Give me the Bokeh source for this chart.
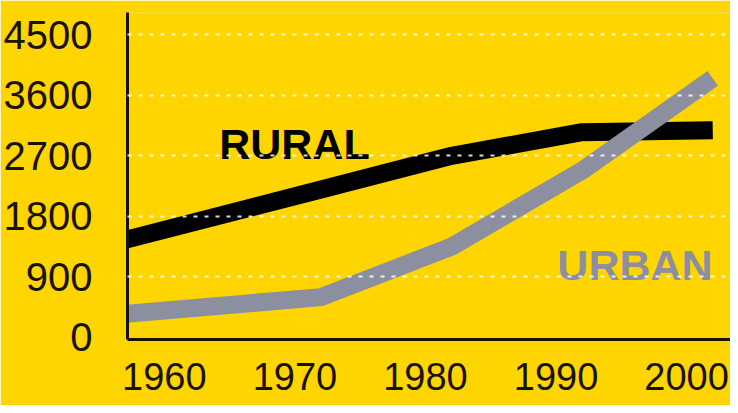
from bokeh.plotting import figure
from bokeh.models import FixedTicker, Range1d
from bokeh.core.properties import value
from bokeh.embed import file_html
from bokeh.resources import INLINE

# Data
years = [1957, 1972, 1982, 1992, 2002]
rural = [1450, 2200, 2700, 3050, 3080]
urban = [350, 600, 1350, 2480, 3850]
x_ticks = [1960, 1970, 1980, 1990, 2000]
y_ticks = [0, 900, 1800, 2700, 3600, 4500]

BG = "#FFD500"
GRAY = "#8C8FA0"
INK = "#1a1200"
FONT = "Liberation Sans"

p = figure(width=730, height=405, output_backend="svg", toolbar_location=None,
           x_range=Range1d(1957.18, 2003.36), y_range=Range1d(-30, 4829))
p.background_fill_color = BG
p.border_fill_color = BG
p.outline_line_color = None
p.min_border_left = 125
p.min_border_right = 0
p.min_border_top = 12
p.min_border_bottom = 66

# lines
p.line(years, rural, line_color="black", line_width=18, line_join="round", line_cap="butt")
p.line(years, urban, line_color=GRAY, line_width=18, line_join="round", line_cap="butt")

# labels
p.text(x=[1964.2], y=[2880], text=["RURAL"], text_color="black",
       text_font=value(FONT), text_font_style="bold", text_font_size="43px",
       text_baseline="alphabetic", text_align="left")
p.text(x=[1990.1], y=[1070], text=["URBAN"], text_color=GRAY,
       text_font=value(FONT), text_font_style="bold", text_font_size="43px",
       text_baseline="alphabetic", text_align="left")

# grid
p.xgrid.visible = False
p.ygrid.ticker = FixedTicker(ticks=y_ticks[1:])
p.ygrid.grid_line_color = "white"
p.ygrid.grid_line_alpha = 0.85
p.ygrid.grid_line_width = 2
p.ygrid.grid_line_dash = "4 7"
p.ygrid.level = "overlay"

# axes
for ax in (p.xaxis[0], p.yaxis[0]):
    ax.axis_line_color = INK
    ax.axis_line_width = 3
    ax.major_tick_line_color = None
    ax.minor_tick_line_color = None
    ax.major_tick_out = 0
    ax.major_tick_in = 0
    ax.minor_tick_out = 0
    ax.major_label_text_font = FONT
    ax.major_label_text_color = INK

p.xaxis.major_label_text_font_size = "38px"
p.yaxis.major_label_text_font_size = "40px"
p.xaxis.ticker = FixedTicker(ticks=x_ticks)
p.yaxis.ticker = FixedTicker(ticks=y_ticks)
p.xaxis.major_label_standoff = 23
p.yaxis.major_label_standoff = 35

open("out.html", "w").write(file_html(p, INLINE))
